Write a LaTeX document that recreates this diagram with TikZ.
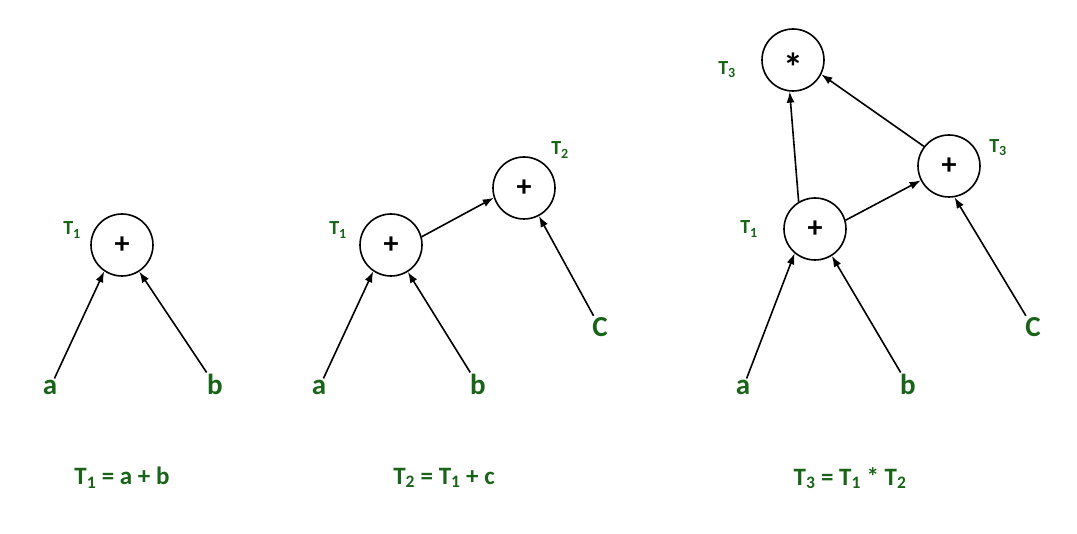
\documentclass[tikz,border=0pt]{standalone}
\usepackage{fontspec}
\setmainfont{Carlito}
\usetikzlibrary{arrows.meta}
\definecolor{tgreen}{RGB}{25,100,25}
\begin{document}
\begin{tikzpicture}[x=1pt,y=-1pt,
  opnode/.style={circle,draw=black,line width=1.6pt,minimum size=62pt,inner sep=0pt,
    font=\bfseries\fontsize{30}{32}\selectfont},
  startext/.style={inner sep=0pt,font=\bfseries\fontsize{40}{42}\selectfont},
  leaf/.style={text=tgreen,anchor=base,inner sep=2pt,font=\bfseries\fontsize{29}{31}\selectfont},
  bigleaf/.style={text=tgreen,anchor=base,inner sep=2pt,font=\bfseries\fontsize{29}{31}\selectfont},
  tlabel/.style={text=tgreen,inner sep=0pt,font=\bfseries\fontsize{20}{22}\selectfont},
  formula/.style={text=tgreen,inner sep=0pt,font=\bfseries\fontsize{25}{27}\selectfont},
  arr/.style={-{Latex[length=11pt,width=8pt]},line width=1.6pt,black}]
\fill[white] (0,0) rectangle (1077,534);
\useasboundingbox (0,0) rectangle (1077,534);

% ---- Tree 1
\node[opnode] (p1) at (122,245) {+};
\node[tlabel] (t1a) at (72,230) {T\textsubscript{1}};
\node[leaf] (a1) at (50,395) {a};
\node[leaf] (b1) at (215,395) {b};
\draw[arr] (a1) -- (p1.236);
\draw[arr] (b1) -- (p1.303);
\node[formula] (f1) at (122,478) {T\textsubscript{1} = a + b};

% ---- Tree 2
\node[opnode] (p2) at (391,245) {+};
\node[opnode] (q2) at (524,188) {+};
\node[tlabel] (t2a) at (338,230) {T\textsubscript{1}};
\node[tlabel] (t2b) at (560,150) {T\textsubscript{2}};
\node[leaf] (a2) at (319,395) {a};
\node[leaf] (b2) at (478,395) {b};
\node[bigleaf] (c2) at (600,337) {C};
\draw[arr] (a2) -- (p2.236);
\draw[arr] (b2) -- (p2.302);
\draw[arr] (c2) -- (q2.298);
\draw[arr] (p2.15) -- (q2.198);
\node[formula] (f2) at (444,478) {T\textsubscript{2} = T\textsubscript{1} + c};

% ---- Tree 3
\node[opnode] (s3) at (793,60) {};
\node[startext] (s3t) at ([yshift=-7pt]s3.center) {*};
\node[opnode] (r3) at (949,166) {+};
\node[opnode] (l3) at (815,229) {+};
\node[tlabel] (t3a) at (727,70) {T\textsubscript{3}};
\node[tlabel] (t3b) at (998,148) {T\textsubscript{3}};
\node[tlabel] (t3c) at (749,229) {T\textsubscript{1}};
\node[leaf] (a3) at (743,395) {a};
\node[leaf] (b3) at (908,395) {b};
\node[bigleaf] (c3) at (1033,337) {C};
\draw[arr] (a3) -- (l3.230);
\draw[arr] (b3) -- (l3.302);
\draw[arr] (c3) -- (r3.280);
\draw[arr] (l3.121) -- (s3.264);
\draw[arr] (l3.16) -- (r3.207);
\draw[arr] (r3.142) -- (s3.333);
\node[formula] (f3) at (850,478) {T\textsubscript{3} = T\textsubscript{1} * T\textsubscript{2}};
\end{tikzpicture}
\end{document}
